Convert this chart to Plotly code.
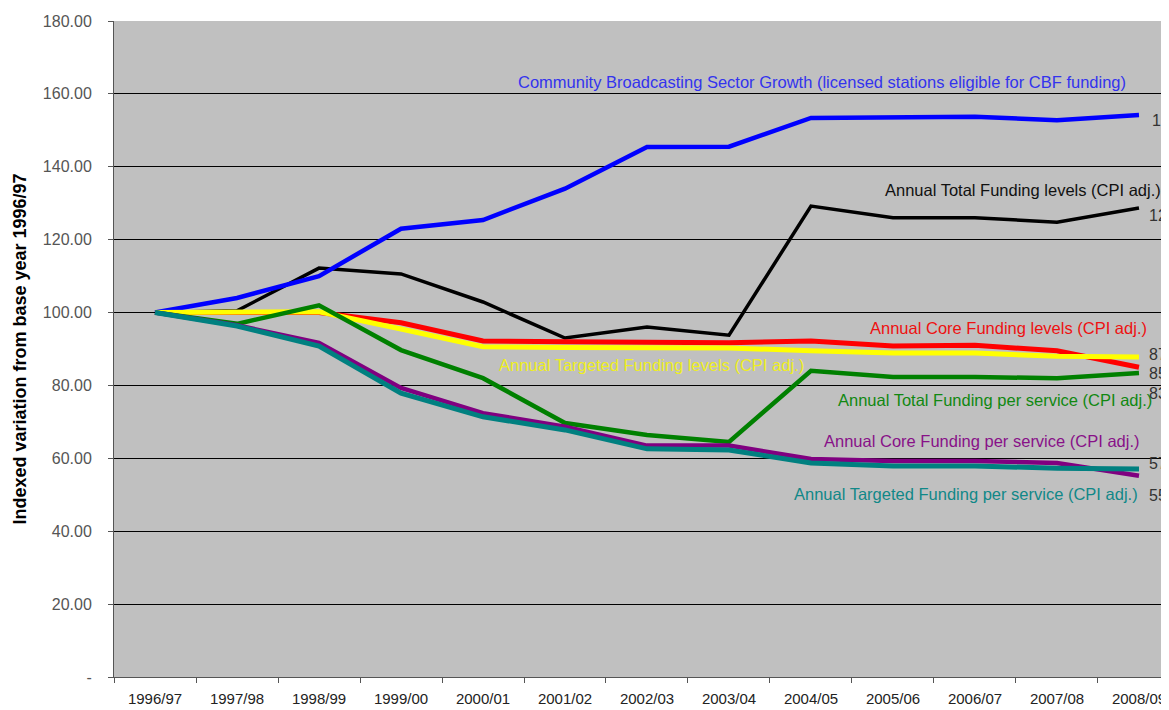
import plotly.graph_objects as go

YEARS = ["1996/97", "1997/98", "1998/99", "1999/00", "2000/01", "2001/02", "2002/03",
         "2003/04", "2004/05", "2005/06", "2006/07", "2007/08", "2008/09"]

sector_growth = [100, 104, 110, 123, 125.4, 134, 145.4, 145.5, 153.4, 153.7, 153.7, 152.8, 154.2]
total_funding = [100, 100.5, 112.2, 110.6, 102.9, 93, 96, 93.8, 129.2, 126, 126, 124.8, 128.7]
core_funding = [100, 100, 100, 97.2, 92.2, 92, 92, 91.7, 92.2, 90.8, 91, 89.5, 85]
targeted_funding = [100, 100, 100.2, 95.5, 90.6, 90.4, 90.5, 90.3, 89.5, 88.9, 88.9, 88, 87.8]
total_per_service = [100, 96.9, 102, 89.7, 82, 69.7, 66.4, 64.5, 84, 82.3, 82.3, 82, 83.4]
core_per_service = [100, 96.5, 91.7, 79.3, 72.4, 68.7, 63.5, 63.5, 59.8, 59.3, 59.3, 58.7, 55.2]
targeted_per_service = [100, 96.3, 90.8, 77.9, 71.4, 67.8, 62.6, 62.3, 58.7, 57.9, 57.9, 57.3, 57.1]

SERIES = [
    ("Annual Total Funding levels (CPI adj.)", total_funding, "#000000", 3.5, "#111111"),
    ("Community Broadcasting Sector Growth (licensed stations eligible for CBF funding)",
     sector_growth, "#0000FF", 4.5, "#3333EE"),
    ("Annual Core Funding levels (CPI adj.)", core_funding, "#FF0000", 5, "#EE1111"),
    ("Annual Targeted Funding levels (CPI adj.)", targeted_funding, "#FFFF00", 5, "#EEEE22"),
    ("Annual Total Funding per service (CPI adj.)", total_per_service, "#008000", 4.5, "#118811"),
    ("Annual Core Funding per service (CPI adj.)", core_per_service, "#800080", 4.5, "#881188"),
    ("Annual Targeted Funding per service (CPI adj.)", targeted_per_service, "#008080", 5, "#118888"),
]

# centre points (category index, value) for the in-chart series names
LABEL_POS = {
    "Community Broadcasting Sector Growth (licensed stations eligible for CBF funding)": (8.14, 163.3),
    "Annual Total Funding levels (CPI adj.)": (10.59, 133.6),
    "Annual Core Funding levels (CPI adj.)": (10.41, 95.8),
    "Annual Targeted Funding levels (CPI adj.)": (6.05, 85.6),
    "Annual Total Funding per service (CPI adj.)": (10.24, 76.0),
    "Annual Core Funding per service (CPI adj.)": (10.08, 64.8),
    "Annual Targeted Funding per service (CPI adj.)": (9.89, 50.2),
}

END_LABELS = [("154", 12.13, 152.8), ("129", 12.10, 126.5), ("87", 12.10, 88.6),
              ("85", 12.10, 83.4), ("83", 12.10, 77.9), ("57", 12.10, 58.7), ("55", 12.10, 49.7)]

FONT = "Liberation Sans, Arial"

fig = go.Figure()
for name, values, color, width, _ in SERIES:
    fig.add_trace(go.Scatter(x=YEARS, y=values, mode="lines", name=name,
                             line=dict(color=color, width=width)))

for name, values, color, width, text_color in SERIES:
    lx, ly = LABEL_POS[name]
    fig.add_annotation(x=lx, y=ly, xref="x", yref="y", text=name, showarrow=False,
                       xanchor="center", yanchor="middle",
                       font=dict(family=FONT, size=16.5, color=text_color))

for text, lx, ly in END_LABELS:
    fig.add_annotation(x=lx, y=ly, xref="x", yref="y", text=text, showarrow=False,
                       xanchor="left", yanchor="middle",
                       font=dict(family=FONT, size=16, color="#333333"))

yticks = list(range(0, 181, 20))
# the page body adds an 8px offset, so margins are trimmed by that much;
# the chart is deliberately cropped at the right edge like the original
fig.update_layout(
    width=1161,
    height=702,
    margin=dict(l=106, r=0, t=13, b=33),
    paper_bgcolor="#FFFFFF",
    plot_bgcolor="#C0C0C0",
    showlegend=False,
    font=dict(family=FONT, size=15, color="#222222"),
    xaxis=dict(
        type="category",
        range=[-0.5, 12.366],
        tickson="boundaries",
        ticks="outside",
        ticklen=5,
        tickcolor="#555555",
        ticklabelstandoff=8,
        showgrid=False,
        showline=True,
        linecolor="#555555",
        tickfont=dict(size=15, color="#222222"),
    ),
    yaxis=dict(
        range=[0, 180],
        tickvals=yticks,
        ticktext=["-" if v == 0 else f"{v:.2f}" for v in yticks],
        ticks="outside",
        ticklen=5,
        tickcolor="#555555",
        ticklabelstandoff=13,
        showgrid=True,
        gridcolor="#000000",
        gridwidth=1,
        zeroline=False,
        showline=True,
        linecolor="#555555",
        tickfont=dict(size=16, color="#555555"),
        title=dict(text="<b>Indexed variation from base year 1996/97</b>",
                   font=dict(size=18, color="#000000"), standoff=11),
    ),
)

fig.write_html("out.html")
